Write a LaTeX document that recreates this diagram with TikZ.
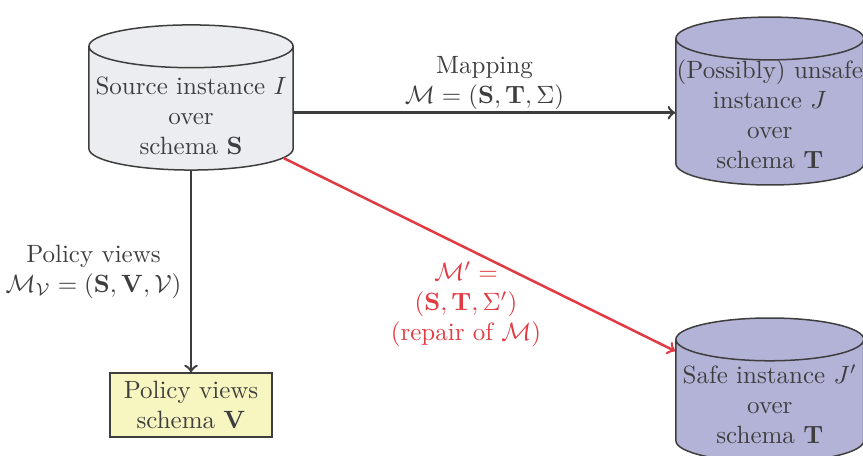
\documentclass[tikz,border=0pt]{standalone}
\usetikzlibrary{shapes.geometric,positioning}
\definecolor{inkgray}{RGB}{62,62,62}
\definecolor{srcfill}{RGB}{236,237,240}
\definecolor{tgtfill}{RGB}{179,179,216}
\definecolor{viewfill}{RGB}{247,246,192}
\definecolor{repred}{RGB}{226,58,66}
% cylinder text: centred lines that may run past the border
\newcommand{\dblines}[1]{\makebox[1.6cm]{\begin{tabular}{@{}c@{}}#1\end{tabular}}}
\begin{document}
\begin{tikzpicture}[font=\normalsize,text=inkgray,
  db/.style={cylinder,shape border rotate=90,draw=inkgray,line width=0.6pt,aspect=0.36,inner sep=1pt,anchor=shape center},
  vw/.style={draw=inkgray,fill=viewfill,line width=0.6pt,minimum width=2.28cm,minimum height=0.9cm,align=center,inner sep=2pt},
  arr/.style={->,line width=1pt,draw=inkgray}]
  \useasboundingbox (0,0) rectangle (12.13,-6.40);
  \node[db,fill=srcfill,minimum width=2.87cm,minimum height=2.04cm,text height=12.7pt,text depth=1.3pt] (src) at (2.685,-1.370){\dblines{Source instance $I$\\over\\schema $\mathbf{S}$}};
  \node[db,fill=tgtfill,minimum width=2.64cm,minimum height=2.36cm,text height=10.5pt,text depth=3.5pt] (unsafe) at (10.82,-1.420){\dblines{(Possibly) unsafe\\instance $J$\\over\\schema $\mathbf{T}$}};
  \node[db,fill=tgtfill,minimum width=2.64cm,minimum height=2.025cm,text height=11.1pt,text depth=2.9pt] (safe) at (10.82,-5.482){\dblines{Safe instance $J'$\\over\\schema $\mathbf{T}$}};
  \node[vw] (views) at (2.685,-5.693){Policy views\\schema $\mathbf{V}$};
  \draw[arr] (src.-1) -- node[above,align=center,inner sep=0.5pt]{Mapping\\$\mathcal{M}=(\mathbf{S},\mathbf{T},\Sigma)$} (src.-1 -| unsafe.west);
  \draw[arr] (src.south) -- node[left,align=center]{Policy views\\$\mathcal{M}_{\mathcal{V}}=(\mathbf{S},\mathbf{V},\mathcal{V})$} (views.north);
  \draw[arr,draw=repred] (src.-27) -- node[midway,xshift=-5.4pt,yshift=-19.8pt,text=repred,align=center]{$\mathcal{M}'=$\\$(\mathbf{S},\mathbf{T},\Sigma')$\\(repair of $\mathcal{M}$)} (safe.151.5);
\end{tikzpicture}
\end{document}
